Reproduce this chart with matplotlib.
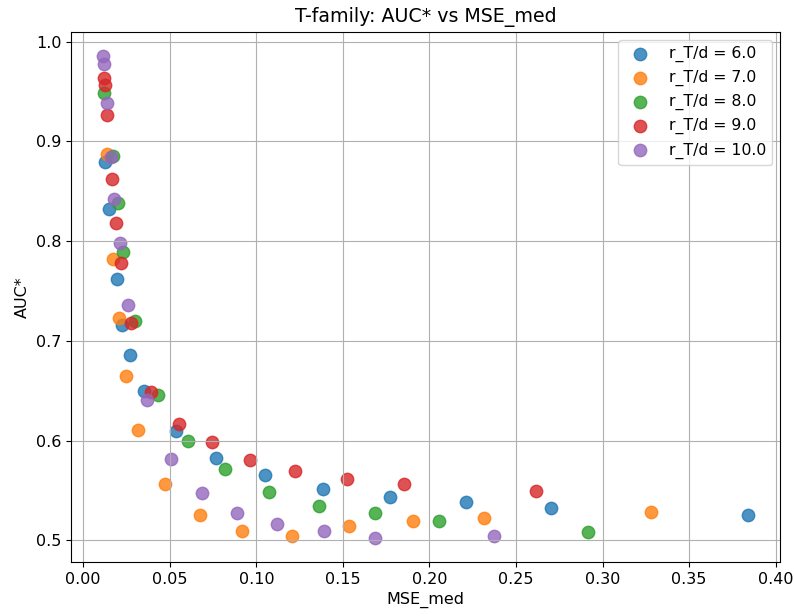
import matplotlib
matplotlib.use("Agg")
import matplotlib.pyplot as plt

series_labels = ["r_T/d = 6.0", "r_T/d = 7.0", "r_T/d = 8.0", "r_T/d = 9.0", "r_T/d = 10.0"]

mse_6 = [0.01253, 0.01499, 0.01924, 0.02250, 0.02704, 0.03533, 0.05360, 0.07680, 0.10503, 0.13830, 0.17730, 0.22124, 0.27001, 0.38385]
auc_6 = [0.879, 0.832, 0.762, 0.716, 0.686, 0.650, 0.610, 0.583, 0.5655, 0.552, 0.544, 0.5386, 0.5326, 0.525]

mse_7 = [0.01351, 0.01726, 0.02072, 0.02496, 0.03188, 0.04728, 0.06762, 0.09161, 0.12044, 0.15322, 0.19034, 0.23161, 0.32797]
auc_7 = [0.887, 0.7825, 0.7227, 0.665, 0.611, 0.557, 0.525, 0.509, 0.5044, 0.5144, 0.519, 0.522, 0.5283]

mse_8 = [0.01213, 0.01726, 0.01983, 0.02309, 0.02980, 0.04303, 0.06051, 0.08203, 0.10711, 0.13633, 0.16881, 0.20564, 0.29144]
auc_8 = [0.948, 0.8855, 0.838, 0.789, 0.720, 0.646, 0.600, 0.5715, 0.549, 0.5343, 0.5273, 0.519, 0.5084]

mse_9 = [0.01213, 0.01243, 0.01381, 0.01637, 0.01864, 0.02171, 0.02783, 0.03938, 0.05518, 0.07413, 0.09645, 0.12231, 0.15252, 0.18550, 0.26172]
auc_9 = [0.9636, 0.957, 0.926, 0.862, 0.8185, 0.7776, 0.7183, 0.649, 0.6164, 0.5987, 0.581, 0.5698, 0.5615, 0.5562, 0.5499]

mse_10 = [0.01154, 0.01183, 0.01351, 0.01598, 0.01786, 0.02111, 0.02595, 0.03711, 0.05093, 0.06841, 0.08875, 0.11195, 0.13880, 0.16881, 0.23733]
auc_10 = [0.9855, 0.978, 0.938, 0.884, 0.8424, 0.798, 0.736, 0.6403, 0.5815, 0.548, 0.527, 0.5163, 0.509, 0.5025, 0.5047]

xs = [mse_6, mse_7, mse_8, mse_9, mse_10]
ys = [auc_6, auc_7, auc_8, auc_9, auc_10]

fig = plt.figure(figsize=(7.94, 6.16), dpi=100)
ax = fig.add_axes([71/794, 1 - 562/616, (780-71)/794, (562-32)/616])

for x, y, lab in zip(xs, ys, series_labels):
    ax.scatter(x, y, s=80, alpha=0.8, label=lab)

ax.set_title("T-family: AUC* vs MSE_med", fontsize=13.7, pad=7)
ax.set_xlabel("MSE_med", fontsize=11.5)
ax.set_ylabel("AUC*", fontsize=11.5)
ax.tick_params(labelsize=11.5)
ax.grid(True)
ax.legend(loc="upper right", fontsize=11.3)

fig.savefig("out.png", dpi=100)
